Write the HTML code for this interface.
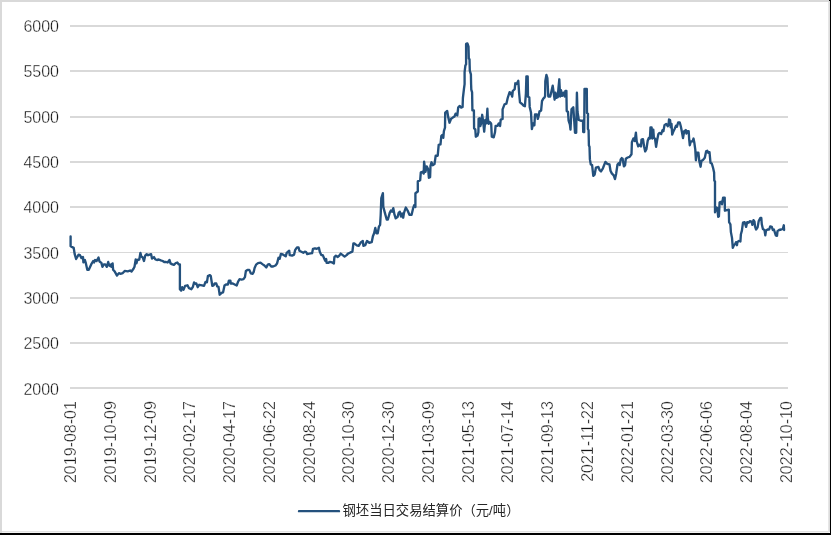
<!DOCTYPE html>
<html><head><meta charset="utf-8"><title>chart</title>
<style>
html,body{margin:0;padding:0;background:#fff;}
body{width:831px;height:535px;overflow:hidden;font-family:"Liberation Sans",sans-serif;}
svg{display:block;}
svg .t{will-change:opacity;}
svg text{font-family:"Liberation Sans",sans-serif;font-size:16px;fill:#141414;stroke:#ffffff;stroke-width:0.35px;}
</style></head><body>
<svg width="831" height="535" viewBox="0 0 831 535">
<rect x="0" y="0" width="831" height="535" fill="#ffffff"/>
<g shape-rendering="crispEdges">
<rect x="0" y="0" width="831" height="2" fill="#d9d9d9"/>
<rect x="0" y="0" width="2" height="533" fill="#d9d9d9"/>
<rect x="2" y="531" width="827" height="1" fill="#e2e2e2"/>
<rect x="2" y="532" width="827" height="1" fill="#f2f2f2"/>
<rect x="828" y="2" width="1" height="530" fill="#e6e6e6"/>
<rect x="829" y="2" width="1" height="530" fill="#dcdcdc"/>
<rect x="0" y="533" width="831" height="2" fill="#000000"/>
<rect x="830" y="0" width="1" height="535" fill="#000000"/>
<rect x="829" y="0" width="1" height="1" fill="#000000"/>
</g>
<g fill="#d9d9d9" shape-rendering="crispEdges">
<rect x="70" y="25" width="718" height="2"/>
<rect x="70" y="70" width="718" height="2"/>
<rect x="70" y="116" width="718" height="2"/>
<rect x="70" y="161" width="718" height="2"/>
<rect x="70" y="206" width="718" height="2"/>
<rect x="70" y="252" width="718" height="1"/>
<rect x="70" y="297" width="718" height="2"/>
<rect x="70" y="342" width="718" height="2"/>
<rect x="70" y="387" width="718" height="2"/>
</g>
<g class="t" text-anchor="end">
<text x="59" y="32.10">6000</text>
<text x="59" y="77.42">5500</text>
<text x="59" y="122.74">5000</text>
<text x="59" y="168.06">4500</text>
<text x="59" y="213.38">4000</text>
<text x="59" y="258.70">3500</text>
<text x="59" y="304.02">3000</text>
<text x="59" y="349.34">2500</text>
<text x="59" y="394.66">2000</text>
</g>
<g class="t" text-anchor="end">
<text transform="translate(76.10,401.2) rotate(-90)">2019-08-01</text>
<text transform="translate(115.86,401.2) rotate(-90)">2019-10-09</text>
<text transform="translate(155.62,401.2) rotate(-90)">2019-12-09</text>
<text transform="translate(195.38,401.2) rotate(-90)">2020-02-17</text>
<text transform="translate(235.14,401.2) rotate(-90)">2020-04-17</text>
<text transform="translate(274.90,401.2) rotate(-90)">2020-06-22</text>
<text transform="translate(314.66,401.2) rotate(-90)">2020-08-24</text>
<text transform="translate(354.42,401.2) rotate(-90)">2020-10-30</text>
<text transform="translate(394.18,401.2) rotate(-90)">2020-12-30</text>
<text transform="translate(433.94,401.2) rotate(-90)">2021-03-09</text>
<text transform="translate(473.70,401.2) rotate(-90)">2021-05-13</text>
<text transform="translate(513.46,401.2) rotate(-90)">2021-07-14</text>
<text transform="translate(553.22,401.2) rotate(-90)">2021-09-13</text>
<text transform="translate(592.98,401.2) rotate(-90)">2021-11-22</text>
<text transform="translate(632.74,401.2) rotate(-90)">2022-01-21</text>
<text transform="translate(672.50,401.2) rotate(-90)">2022-03-30</text>
<text transform="translate(712.26,401.2) rotate(-90)">2022-06-06</text>
<text transform="translate(752.02,401.2) rotate(-90)">2022-08-04</text>
<text transform="translate(791.78,401.2) rotate(-90)">2022-10-10</text>
</g>
<polyline fill="none" stroke="#24517d" stroke-width="2.35" stroke-linejoin="round" stroke-linecap="round" points="70.6,236.5 70.6,246.2 73.7,247.9 74.7,254.2 76.1,259.0 78.6,254.7 80.0,255.2 81.5,258.1 83.0,257.1 83.4,262.4 84.9,260.0 85.9,263.4 87.3,269.7 88.8,269.7 91.2,264.4 93.2,261.0 94.1,262.4 95.1,260.0 96.6,261.0 98.5,257.6 99.5,261.5 101.4,262.9 102.4,266.8 103.8,264.4 105.3,264.4 106.8,266.8 108.2,262.0 109.2,265.4 110.6,266.3 111.1,264.4 111.6,266.8 112.6,263.4 113.1,269.7 114.5,271.2 117.0,275.6 118.9,273.1 120.4,273.8 122.8,273.1 124.7,270.9 127.7,271.4 130.1,270.5 131.5,271.5 133.5,268.8 134.5,266.8 135.7,259.5 136.4,263.4 137.4,260.0 139.3,259.5 140.4,252.9 141.3,256.6 142.8,257.6 144.0,261.0 145.2,255.7 146.7,254.2 148.1,255.2 151.1,254.2 152.0,258.6 154.0,257.1 155.4,259.5 156.9,260.0 158.8,259.5 160.8,260.3 162.7,261.0 164.2,262.0 166.1,262.0 167.6,262.5 169.5,260.0 170.5,263.4 172.4,264.4 173.9,264.9 175.8,263.0 177.3,262.5 178.8,264.4 179.9,264.4 179.9,289.2 181.2,290.6 182.2,287.2 183.6,289.7 185.1,285.8 187.5,285.3 189.0,288.2 191.4,289.2 192.9,286.8 194.1,282.4 195.3,283.8 196.3,283.4 197.7,287.2 199.2,284.8 202.1,285.3 204.0,285.8 205.5,281.9 206.9,282.4 207.9,276.1 208.9,275.6 209.9,275.1 210.8,276.1 211.3,279.5 212.3,285.8 213.7,285.3 214.7,283.4 216.3,283.5 217.2,286.4 218.5,286.9 219.7,294.7 221.6,292.8 223.1,292.3 224.5,285.5 226.0,284.5 227.9,284.5 228.9,280.6 230.4,280.6 230.8,283.5 232.8,283.5 234.7,284.5 236.7,285.5 238.1,281.6 239.6,279.2 241.5,279.6 243.5,279.2 244.9,277.2 245.9,270.9 247.4,269.9 249.3,269.9 250.8,273.3 252.7,273.8 253.7,271.9 254.6,268.0 256.1,264.6 258.0,263.1 260.5,262.6 262.4,264.1 264.4,265.5 266.3,267.5 267.8,264.6 269.2,264.1 271.2,266.5 273.1,266.5 275.5,265.5 277.0,263.6 278.5,257.8 279.7,258.7 280.9,253.9 282.8,254.4 285.7,256.3 286.7,252.9 289.2,250.7 289.7,255.1 292.1,255.6 294.1,254.6 295.1,250.2 297.0,247.3 298.5,247.3 299.4,250.7 301.4,251.7 303.3,252.7 304.8,251.7 306.2,252.2 307.2,254.1 309.2,253.6 312.1,253.2 313.0,248.8 315.0,248.3 316.9,248.8 318.9,247.8 319.8,251.7 321.3,255.1 322.8,255.1 324.2,258.5 325.2,260.9 326.2,259.0 326.6,262.9 328.1,262.9 330.0,261.9 332.0,262.4 333.9,263.4 334.4,257.0 335.9,255.6 337.8,257.0 339.3,255.6 340.7,253.6 342.7,255.1 344.6,256.6 346.6,255.1 348.0,253.6 350.0,252.7 352.4,251.7 353.4,243.4 354.3,243.4 356.8,245.4 358.7,245.9 361.0,242.2 362.8,241.0 363.4,245.8 365.2,245.2 367.0,241.0 369.3,242.8 371.7,242.2 372.9,236.2 374.1,233.2 375.3,227.9 376.5,233.2 377.7,233.2 378.9,226.7 380.1,224.9 380.7,214.7 381.3,198.0 382.9,193.2 383.3,206.9 384.9,212.9 386.7,219.5 387.9,219.5 389.7,212.9 390.9,210.5 392.1,211.7 393.3,208.1 394.5,214.7 395.7,218.3 397.5,217.1 398.7,212.9 399.8,211.7 401.0,216.5 402.2,213.5 403.2,217.7 404.0,212.9 405.8,207.5 407.6,210.5 409.4,214.7 411.6,214.7 413.0,208.7 414.2,205.1 415.4,206.9 415.4,193.3 417.8,191.5 417.8,181.4 420.2,180.2 420.8,172.4 422.5,171.8 423.7,173.6 424.1,161.7 425.5,171.8 426.7,166.4 428.2,169.4 428.9,177.8 430.1,177.2 430.5,165.8 431.5,162.3 432.7,165.2 434.5,164.1 435.7,155.7 437.7,155.7 438.7,144.9 440.5,144.3 441.3,136.0 442.2,135.0 443.3,137.8 443.9,131.1 445.0,127.7 445.2,112.6 447.2,110.9 448.3,117.6 449.5,122.7 451.1,118.8 452.8,117.6 454.5,116.5 455.6,113.7 457.3,115.4 458.2,107.6 459.6,105.9 461.2,107.6 462.6,107.0 462.9,98.0 464.0,88.5 464.6,84.2 464.6,72.2 465.4,65.4 466.1,64.3 466.1,43.9 467.4,43.4 468.5,46.6 468.8,58.6 469.5,59.1 469.8,70.6 470.9,74.3 471.1,84.2 471.3,89.6 472.1,92.4 472.4,110.4 473.9,110.4 474.1,128.3 475.3,129.4 475.8,136.7 477.5,135.6 478.4,132.2 478.6,118.8 479.7,118.2 480.3,126.1 481.4,122.7 482.2,114.8 483.1,121.0 484.2,131.7 485.3,119.9 486.5,123.3 487.4,108.7 487.8,117.6 488.7,123.8 489.8,122.1 491.0,123.3 491.2,124.0 491.8,136.7 493.7,137.4 495.0,132.3 495.6,125.9 497.5,125.9 498.8,123.4 500.1,125.9 500.7,119.6 502.6,118.9 502.6,109.4 504.5,104.3 506.4,103.7 507.7,98.0 509.6,92.2 510.9,92.9 512.2,96.7 512.8,91.0 514.7,89.1 515.3,83.3 516.6,84.0 518.3,80.8 519.1,92.9 520.0,102.4 521.7,103.7 523.6,105.6 524.9,106.2 525.9,93.5 526.4,76.4 527.7,76.4 528.0,96.7 529.3,97.3 529.7,106.9 531.0,112.6 531.9,129.1 533.1,123.4 534.4,125.3 535.0,114.5 536.9,114.5 537.8,118.9 538.8,115.1 539.5,111.3 541.1,110.7 542.0,101.1 543.3,98.6 544.6,97.3 545.1,95.9 545.3,81.3 546.4,74.9 547.4,78.1 548.3,96.5 550.2,96.5 551.4,91.4 552.7,85.7 553.7,92.7 554.6,99.7 555.5,92.7 556.5,97.8 557.8,97.1 558.4,88.9 559.3,79.3 560.1,96.5 561.0,90.2 562.2,95.9 563.5,92.7 564.8,96.5 565.4,90.8 566.4,90.8 566.7,111.1 568.0,111.8 568.6,120.7 569.9,124.5 570.5,129.6 571.5,109.2 573.3,107.3 574.3,121.9 575.0,132.7 576.2,132.7 576.9,92.7 577.5,111.8 578.8,120.0 580.7,120.7 583.0,120.7 583.2,132.1 584.2,132.1 584.5,88.9 586.8,88.9 587.0,113.0 588.0,113.7 587.9,128.9 588.6,130.2 588.9,145.4 589.5,146.7 589.9,159.4 590.8,164.5 592.1,165.1 593.3,175.9 594.6,174.7 595.9,167.7 598.4,167.0 599.7,170.2 601.0,171.5 602.9,168.3 605.4,161.9 607.3,163.9 609.5,164.5 610.5,170.8 611.8,173.4 613.7,175.3 615.0,179.1 616.2,173.4 617.5,164.5 618.8,163.2 619.7,165.1 620.7,159.4 621.7,158.1 622.6,158.8 623.9,166.4 625.1,165.1 625.8,158.8 627.7,157.5 629.6,156.9 631.5,154.3 631.9,142.2 633.4,138.4 634.7,141.0 635.9,132.7 636.7,141.3 638.2,146.4 639.3,144.7 641.0,146.4 641.5,139.7 643.0,139.1 644.1,146.4 645.2,151.4 646.4,149.2 647.7,140.8 648.8,138.0 649.9,138.5 650.5,127.3 651.6,127.3 652.2,138.5 653.3,129.6 653.9,138.0 655.0,138.5 656.1,146.9 657.2,139.7 658.4,134.0 659.5,132.9 661.2,134.0 662.5,130.1 663.4,131.2 664.5,125.1 666.2,123.9 667.7,126.2 668.5,125.1 669.0,119.5 670.1,120.0 670.7,127.3 671.5,123.9 672.2,134.6 673.5,131.2 674.6,129.0 676.0,125.6 676.9,126.8 678.2,122.3 679.7,122.3 680.8,126.2 681.9,131.8 683.0,138.0 684.2,131.2 685.8,130.1 686.4,133.5 687.5,131.2 688.7,131.2 689.2,139.7 689.8,145.3 690.9,141.3 692.6,141.3 693.5,138.5 694.3,142.5 695.4,150.3 695.3,150.2 695.9,160.3 696.8,152.7 698.4,152.7 699.3,161.0 700.6,166.7 701.4,161.0 703.2,159.7 704.8,157.8 706.1,151.4 707.3,150.8 708.2,152.7 709.5,152.1 710.5,162.9 711.8,163.5 713.1,168.0 714.1,172.4 714.3,180.7 715.0,181.3 715.0,212.2 716.3,207.5 717.3,208.0 718.2,216.9 718.9,216.4 719.6,202.3 721.0,201.8 722.0,204.4 723.1,197.6 724.7,197.6 724.9,210.7 726.8,210.1 728.8,209.6 729.1,222.2 730.4,224.3 730.9,232.1 732.0,237.9 732.8,247.8 733.9,245.2 735.1,244.2 736.0,242.1 737.0,245.2 737.4,242.1 738.8,241.0 740.4,241.5 740.9,234.2 741.9,230.6 743.0,222.7 744.6,222.2 746.1,226.9 747.2,222.2 748.7,222.7 749.8,221.1 751.4,221.7 752.4,224.8 753.5,220.1 754.5,221.7 755.0,226.4 756.1,229.5 757.6,227.4 758.7,221.1 760.3,218.0 761.3,218.0 761.8,224.3 762.9,229.0 764.5,230.0 765.3,235.3 766.0,230.6 767.6,229.5 769.2,229.5 770.2,226.4 771.8,226.9 772.8,230.0 773.9,229.5 774.9,232.6 775.8,235.3 777.0,235.8 777.5,231.1 779.1,230.0 781.2,229.5 782.8,229.0 783.8,225.3 784.1,230.0"/>
<line x1="299" y1="511.15" x2="339" y2="511.15" stroke="#24517d" stroke-width="2.4" stroke-linecap="round"/>
<text x="342.5" y="515" textLength="177" lengthAdjust="spacingAndGlyphs" style="font-family:'Liberation Sans','Noto Sans CJK SC',sans-serif;font-size:13.5px;fill:#262626;stroke:none;">钢坯当日交易结算价（元/吨）</text>
</svg>
</body></html>
